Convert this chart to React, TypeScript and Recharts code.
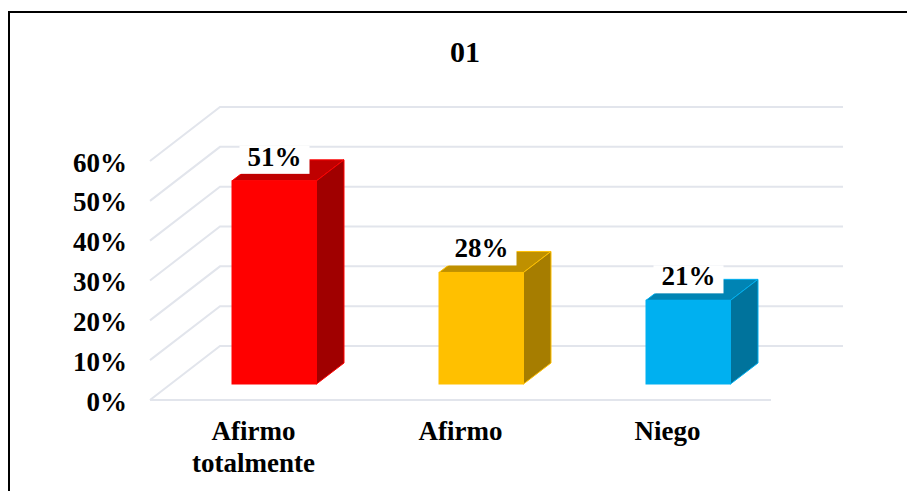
import { BarChart, Bar, XAxis, YAxis, CartesianGrid, LabelList } from 'recharts'

const categories = ['Afirmo totalmente', 'Afirmo', 'Niego']
const values = [51, 28, 21]
const yTicks = [0, 10, 20, 30, 40, 50, 60]
const frontColors = ['#FF0000', '#FFC000', '#00B0F0']
const topColors = ['#BF0000', '#BF9000', '#0084B4']
const sideColors = ['#A00000', '#A67D00', '#00739C']
const titleText = '01'

const data = categories.map((name, i) => ({ name, value: values[i], index: i }))

const FONT = '"Liberation Serif", serif'
const GRID = '#E2E5EC'

// bars stand part way back on the floor of the 3d box
const BAR_DX = 21
const BAR_DY = -16
const DEPTH_X = 27.5
const DEPTH_Y = -21

function GridLine(props: any) {
  const { x1, x2, y1 } = props
  const backY = y1 - 54
  return (
    <polyline
      points={`${x1},${y1} ${x1 + 70},${backY} ${x2 + 72},${backY}`}
      fill="none"
      stroke={GRID}
      strokeWidth={2}
    />
  )
}

function Box3D(props: any) {
  const { x, y, width, height, index } = props
  const l = x + BAR_DX
  const r = l + width - 0.5
  const t = y + BAR_DY
  const b = t + height
  const front = frontColors[index]
  return (
    <g>
      <polygon
        points={`${l},${t} ${l + DEPTH_X},${t + DEPTH_Y} ${r + DEPTH_X},${t + DEPTH_Y} ${r},${t}`}
        fill={topColors[index]}
        stroke={front}
        strokeWidth={1}
      />
      <polygon
        points={`${r},${t} ${r + DEPTH_X},${t + DEPTH_Y} ${r + DEPTH_X},${b + DEPTH_Y} ${r},${b}`}
        fill={sideColors[index]}
        stroke={front}
        strokeWidth={1}
      />
      <rect x={l} y={t} width={r - l} height={height} fill={front} stroke={front} strokeWidth={1} />
    </g>
  )
}

function ValueLabel(props: any) {
  const { x, y, width, value } = props
  const cx = x + BAR_DX + width / 2
  const t = y + BAR_DY
  return (
    <g>
      <rect x={cx - 35} y={t - 35} width={70} height={28} fill="#FFFFFF" />
      <text x={cx} y={t - 15} textAnchor="middle" fontFamily={FONT} fontWeight={700} fontSize={27} fill="#000000">
        {value}%
      </text>
    </g>
  )
}

function CategoryTick(props: any) {
  const { x, payload } = props
  const lines = String(payload.value).split(' ')
  return (
    <text textAnchor="middle" fontFamily={FONT} fontWeight={700} fontSize={27} fill="#000000">
      {lines.map((line: string, i: number) => (
        <tspan key={i} x={x} y={440 + i * 31.5}>
          {line}
        </tspan>
      ))}
    </text>
  )
}

export default function App() {
  return (
    <div style={{ position: 'absolute', left: 0, top: 0, width: 907, height: 491, background: '#fff', overflow: 'hidden' }}>
      <div
        style={{
          position: 'absolute', left: 8, top: 11, width: 920, height: 500,
          border: '2px solid #000', boxSizing: 'border-box',
        }}
      />
      <div
        style={{
          position: 'absolute', left: 0, width: 930, top: 35, textAlign: 'center',
          fontFamily: FONT, fontWeight: 700, fontSize: 30, color: '#000',
        }}
      >
        {titleText}
      </div>
      <BarChart
        width={907}
        height={491}
        data={data}
        margin={{ top: 161, right: 136, bottom: 0, left: 70 }}
        barCategoryGap={61}
        style={{ position: 'absolute', left: 0, top: 0 }}
      >
        <CartesianGrid vertical={false} horizontal={(p: any) => <GridLine key={p.index} {...p} />} />
        <XAxis
          dataKey="name"
          interval={0}
          axisLine={{ stroke: GRID, strokeWidth: 2 }}
          tickLine={false}
          tick={<CategoryTick />}
          height={91}
        />
        <YAxis
          domain={[0, 60]}
          ticks={yTicks}
          interval={0}
          tickFormatter={(v: number) => `${v}%`}
          axisLine={false}
          tickLine={false}
          width={80}
          tick={{ fontFamily: FONT, fontWeight: 700, fontSize: 27, fill: '#000', dy: 1 }}
          tickMargin={17}
        />
        <Bar dataKey="value" shape={<Box3D />} isAnimationActive={false}>
          <LabelList dataKey="value" content={<ValueLabel />} />
        </Bar>
      </BarChart>
    </div>
  )
}
